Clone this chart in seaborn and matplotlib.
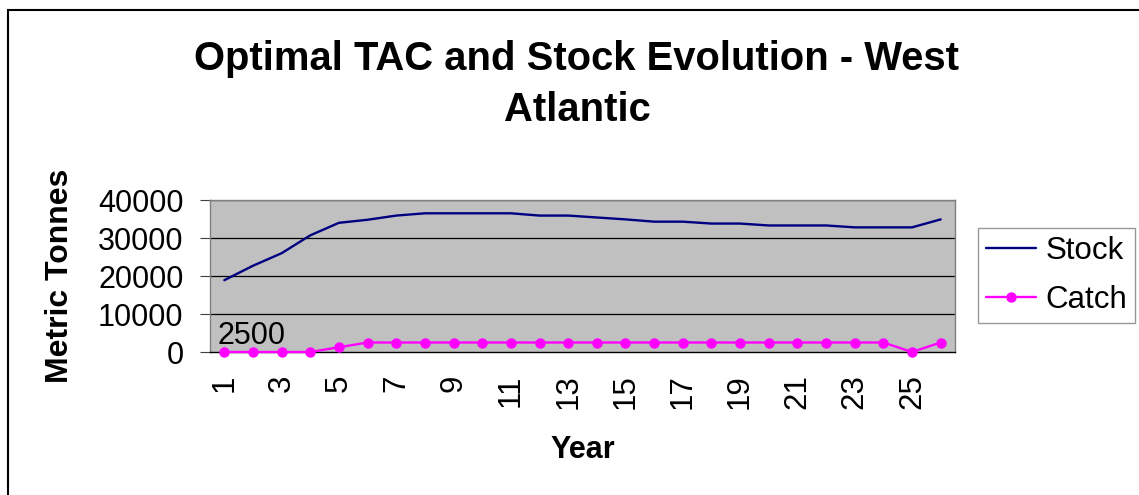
import matplotlib
matplotlib.use("Agg")
import matplotlib.pyplot as plt
import seaborn as sns
import pandas as pd
from matplotlib.patches import Rectangle
from matplotlib.ticker import FixedLocator

years = list(range(1, 27))
stock = [18900, 22700, 26000, 30700, 34000, 34800, 35900, 36500, 36500, 36500,
         36500, 35900, 35900, 35400, 34900, 34300, 34300, 33800, 33800, 33300,
         33300, 33300, 32800, 32800, 32800, 34900]
catch = [0, 0, 0, 0, 1250, 2500, 2500, 2500, 2500, 2500,
         2500, 2500, 2500, 2500, 2500, 2500, 2500, 2500, 2500, 2500,
         2500, 2500, 2500, 2500, 0, 2500]
yticks = [0, 10000, 20000, 30000, 40000]
xtick_labels = [str(y) for y in years if y % 2 == 1]
data_label = "2500"

df = pd.DataFrame({"Year": years, "Stock": stock, "Catch": catch})

sns.set_style("white")
plt.rcParams["font.family"] = ["Liberation Sans", "DejaVu Sans"]
plt.rcParams["text.color"] = "black"
plt.rcParams["axes.labelcolor"] = "black"
plt.rcParams["xtick.color"] = "black"
plt.rcParams["ytick.color"] = "black"

W, H = 1139, 495
fig = plt.figure(figsize=(W / 100, H / 100), dpi=100)
ax = fig.add_axes([210 / W, (H - 352) / H, (955 - 210) / W, (352 - 200) / H])
ax.set_facecolor("#C0C0C0")

sns.lineplot(data=df, x="Year", y="Stock", ax=ax, color="#000080", lw=1.7,
             label="Stock", zorder=3)
sns.lineplot(data=df, x="Year", y="Catch", ax=ax, color="#FF00FF", lw=1.7,
             marker="o", markersize=7.5, markeredgewidth=0, label="Catch",
             zorder=4, clip_on=False)

ax.set_xlim(0.5, 26.5)
ax.set_ylim(0, 40000)
ax.set_yticks(yticks)
ax.set_yticklabels([str(v) for v in yticks], fontsize=22)
for v in yticks[1:]:
    ax.axhline(v, color="black", lw=0.9, zorder=1)

ax.xaxis.set_major_locator(FixedLocator([y for y in years if y % 2 == 1]))
ax.set_xticklabels(xtick_labels, rotation=90, fontsize=22.5, va="top", ha="center")
ax.xaxis.set_minor_locator(FixedLocator([y + 0.5 for y in range(0, 27)]))
ax.tick_params(axis="x", which="major", length=0, pad=16)
ax.tick_params(axis="x", which="minor", length=6, width=0.8, color="#404040")
ax.tick_params(axis="y", which="major", length=7, width=0.8, pad=12, left=True,
               color="#404040")

for s in ax.spines.values():
    s.set_color("#808080")
    s.set_linewidth(1.0)
ax.spines["bottom"].set_color("black")

ax.set_xlabel("Year", fontsize=22, fontweight="bold", labelpad=19)
ax.set_ylabel("Metric Tonnes", fontsize=23, fontweight="bold", labelpad=17)

ax.text(0.75, 2200, data_label, fontsize=22, ha="left", va="baseline", zorder=5)

fig.text(577 / W, 1 - 40 / H, "Optimal TAC and Stock Evolution - West\nAtlantic",
         fontsize=28.8, fontweight="bold", ha="center", va="top", linespacing=1.42)

ax.get_legend().remove()
h, l = ax.get_legend_handles_labels()
leg = fig.legend(h, l, loc="upper left", bbox_to_anchor=(978 / W, 1 - 228 / H),
                 fontsize=22.5, frameon=True, fancybox=False, handlelength=1.6,
                 handletextpad=0.3, labelspacing=0.62, borderpad=0.25,
                 borderaxespad=0)
leg.get_frame().set_edgecolor("#808080")
leg.get_frame().set_linewidth(1.0)

fig.patches.append(Rectangle((8 / W, -0.1), 2, 1.1 - 10 / H, transform=fig.transFigure,
                             fill=False, edgecolor="black", lw=1.5))

fig.savefig("out.png", dpi=100)
